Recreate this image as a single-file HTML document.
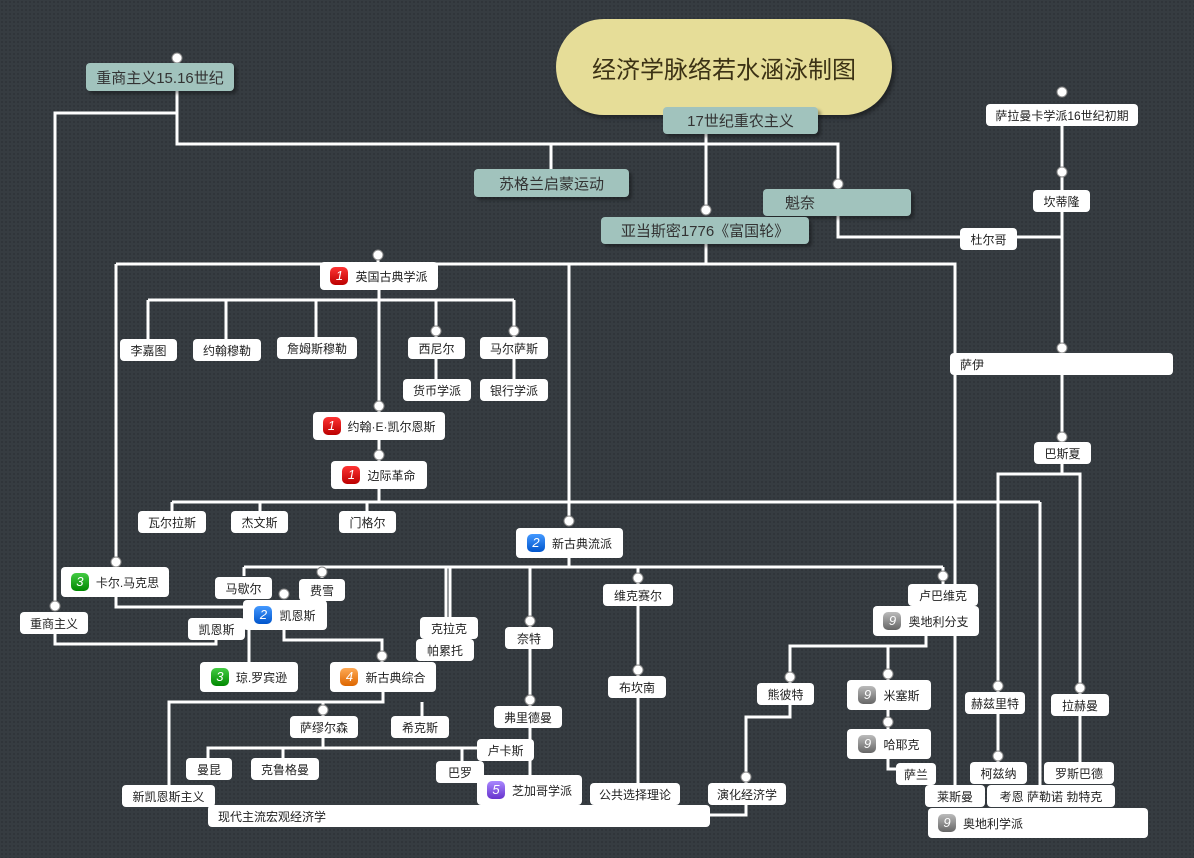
<!DOCTYPE html>
<html><head><meta charset="utf-8"><style>
body{margin:0;width:1194px;height:858px;overflow:hidden;background:#363c41;background-image:radial-gradient(#2e3338 1px,transparent 1px);background-size:4px 4px;font-family:"Liberation Sans","Noto Sans CJK SC",sans-serif;position:relative}
.n{position:absolute;background:#fff;border-radius:4px;font-size:12px;color:#222;display:flex;align-items:center;justify-content:center;box-sizing:border-box;white-space:nowrap}
.t{background:#a1c3bd;font-size:15px;color:#333;box-shadow:3px 3px 3px rgba(0,0,0,.35)}
.b{display:inline-block;width:18px;height:18px;border-radius:5px;color:#fff;font-style:italic;font-size:13px;text-align:center;line-height:18px;margin-right:7px}
.r{background:linear-gradient(#f33,#b00)}.g{background:linear-gradient(#4c4,#080)}.bl{background:linear-gradient(#49f,#05c)}.o{background:linear-gradient(#fa5,#d60)}.p{background:linear-gradient(#a8f,#63c)}.y{background:linear-gradient(#bbb,#666)}
svg{position:absolute;left:0;top:0}
</style></head><body>
<svg width="1194" height="858"><g fill="none" stroke="#fff" stroke-width="3">
<path d="M177,91V144H838V184M551,144V169M706,134V210M177,113H55V607"/>
<path d="M706,230V264M116,264H955V785M116,264V562M569,264V521M378,255V262"/>
<path d="M838,204V237H1062M1062,118V353M1062,375V443M1062,463V474H998V762M1062,474H1080V762"/>
<path d="M1040,502V785M172,502H1040M379,489V502M172,502V511M260,502V511M367,502V511"/>
<path d="M379,290V300M148,300H514M148,300V339M226,300V339M316,300V337M436,300V337M514,300V337M379,300V412M379,440V461M436,359V379M514,359V379"/>
<path d="M569,558V567M244,567H943M244,567V576M322,567V578M446,567V617M450,567V617M530,567V627M638,567V584M943,567V584"/>
<path d="M116,597V607H243M249,630V662M284,630V640H382V662M216,639V644H55V634"/>
<path d="M383,692V702H169V785M323,702V716M422,702V716M323,738V748H208V758M283,748V758M323,748H477M462,748V761"/>
<path d="M530,649V706M530,728V775M638,606V676M638,698V783M926,636V646H790V683M888,646V680M888,710V729M888,759V769H896M790,705V717H746V783M746,805V815H710"/>
</g>
<g fill="#fff" stroke="#888" stroke-width="1">
<circle cx="177" cy="58" r="5"/><circle cx="838" cy="184" r="5"/><circle cx="706" cy="210" r="5"/><circle cx="1062" cy="92" r="5"/><circle cx="1062" cy="172" r="5"/><circle cx="1062" cy="348" r="5"/><circle cx="1062" cy="437" r="5"/>
<circle cx="378" cy="255" r="5"/><circle cx="436" cy="331" r="5"/><circle cx="514" cy="331" r="5"/><circle cx="379" cy="406" r="5"/><circle cx="379" cy="455" r="5"/><circle cx="569" cy="521" r="5"/><circle cx="116" cy="562" r="5"/><circle cx="55" cy="606" r="5"/>
<circle cx="322" cy="572" r="5"/><circle cx="284" cy="594" r="5"/><circle cx="530" cy="621" r="5"/><circle cx="638" cy="578" r="5"/><circle cx="943" cy="576" r="5"/><circle cx="926" cy="600" r="5"/><circle cx="382" cy="656" r="5"/><circle cx="323" cy="710" r="5"/><circle cx="530" cy="700" r="5"/><circle cx="638" cy="670" r="5"/><circle cx="790" cy="677" r="5"/><circle cx="888" cy="674" r="5"/><circle cx="888" cy="722" r="5"/><circle cx="998" cy="686" r="5"/><circle cx="1080" cy="688" r="5"/><circle cx="998" cy="756" r="5"/><circle cx="746" cy="777" r="5"/>
</g></svg>
<div class="n" style="left:556px;top:19px;width:336px;height:96px;border-radius:48px;background:#e6dd98;font-size:24px;color:#3c3215;box-shadow:3px 3px 4px rgba(0,0,0,.4)">经济学脉络若水涵泳制图</div>
<div class="n t" style="left:86px;top:63px;width:148px;height:28px">重商主义15.16世纪</div>
<div class="n t" style="left:663px;top:107px;width:155px;height:27px">17世纪重农主义</div>
<div class="n t" style="left:474px;top:169px;width:155px;height:28px">苏格兰启蒙运动</div>
<div class="n t" style="left:763px;top:189px;width:148px;height:27px;justify-content:flex-start;padding-left:22px">魁奈</div>
<div class="n t" style="left:601px;top:217px;width:208px;height:27px">亚当斯密1776《富国轮》</div>
<div class="n" style="left:986px;top:104px;width:152px;height:22px">萨拉曼卡学派16世纪初期</div>
<div class="n" style="left:1033px;top:190px;width:57px;height:22px">坎蒂隆</div>
<div class="n" style="left:960px;top:228px;width:57px;height:22px">杜尔哥</div>
<div class="n" style="left:950px;top:353px;width:223px;height:22px;justify-content:flex-start;padding-left:10px">萨伊</div>
<div class="n" style="left:1034px;top:442px;width:57px;height:22px">巴斯夏</div>
<div class="n" style="left:320px;top:262px;width:118px;height:28px"><span class="b r">1</span>英国古典学派</div>
<div class="n" style="left:120px;top:339px;width:57px;height:22px">李嘉图</div>
<div class="n" style="left:193px;top:339px;width:68px;height:22px">约翰穆勒</div>
<div class="n" style="left:277px;top:337px;width:80px;height:22px">詹姆斯穆勒</div>
<div class="n" style="left:408px;top:337px;width:57px;height:22px">西尼尔</div>
<div class="n" style="left:480px;top:337px;width:68px;height:22px">马尔萨斯</div>
<div class="n" style="left:403px;top:379px;width:68px;height:22px">货币学派</div>
<div class="n" style="left:480px;top:379px;width:68px;height:22px">银行学派</div>
<div class="n" style="left:313px;top:412px;width:132px;height:28px"><span class="b r">1</span>约翰·E·凯尔恩斯</div>
<div class="n" style="left:331px;top:461px;width:96px;height:28px"><span class="b r">1</span>边际革命</div>
<div class="n" style="left:138px;top:511px;width:68px;height:22px">瓦尔拉斯</div>
<div class="n" style="left:231px;top:511px;width:57px;height:22px">杰文斯</div>
<div class="n" style="left:339px;top:511px;width:57px;height:22px">门格尔</div>
<div class="n" style="left:516px;top:528px;width:107px;height:30px"><span class="b bl">2</span>新古典流派</div>
<div class="n" style="left:61px;top:567px;width:108px;height:30px"><span class="b g">3</span>卡尔.马克思</div>
<div class="n" style="left:215px;top:577px;width:57px;height:22px">马歇尔</div>
<div class="n" style="left:299px;top:579px;width:46px;height:22px">费雪</div>
<div class="n" style="left:243px;top:600px;width:84px;height:30px"><span class="b bl">2</span>凯恩斯</div>
<div class="n" style="left:188px;top:618px;width:57px;height:22px">凯恩斯</div>
<div class="n" style="left:20px;top:612px;width:68px;height:22px">重商主义</div>
<div class="n" style="left:420px;top:617px;width:58px;height:22px">克拉克</div>
<div class="n" style="left:416px;top:639px;width:58px;height:22px">帕累托</div>
<div class="n" style="left:505px;top:627px;width:48px;height:22px">奈特</div>
<div class="n" style="left:603px;top:584px;width:70px;height:22px">维克赛尔</div>
<div class="n" style="left:200px;top:662px;width:98px;height:30px"><span class="b g">3</span>琼.罗宾逊</div>
<div class="n" style="left:330px;top:662px;width:106px;height:30px"><span class="b o">4</span>新古典综合</div>
<div class="n" style="left:290px;top:716px;width:68px;height:22px">萨缪尔森</div>
<div class="n" style="left:391px;top:716px;width:58px;height:22px">希克斯</div>
<div class="n" style="left:186px;top:758px;width:46px;height:22px">曼昆</div>
<div class="n" style="left:251px;top:758px;width:68px;height:22px">克鲁格曼</div>
<div class="n" style="left:494px;top:706px;width:68px;height:22px">弗里德曼</div>
<div class="n" style="left:477px;top:739px;width:57px;height:22px">卢卡斯</div>
<div class="n" style="left:436px;top:761px;width:48px;height:22px">巴罗</div>
<div class="n" style="left:477px;top:775px;width:105px;height:30px"><span class="b p">5</span>芝加哥学派</div>
<div class="n" style="left:122px;top:785px;width:93px;height:22px">新凯恩斯主义</div>
<div class="n" style="left:208px;top:805px;width:502px;height:22px;justify-content:flex-start;padding-left:10px">现代主流宏观经济学</div>
<div class="n" style="left:590px;top:783px;width:90px;height:22px">公共选择理论</div>
<div class="n" style="left:608px;top:676px;width:58px;height:22px">布坎南</div>
<div class="n" style="left:708px;top:783px;width:78px;height:22px">演化经济学</div>
<div class="n" style="left:757px;top:683px;width:57px;height:22px">熊彼特</div>
<div class="n" style="left:908px;top:584px;width:70px;height:22px">卢巴维克</div>
<div class="n" style="left:873px;top:606px;width:106px;height:30px"><span class="b y">9</span>奥地利分支</div>
<div class="n" style="left:847px;top:680px;width:84px;height:30px"><span class="b y">9</span>米塞斯</div>
<div class="n" style="left:847px;top:729px;width:84px;height:30px"><span class="b y">9</span>哈耶克</div>
<div class="n" style="left:896px;top:763px;width:40px;height:22px">萨兰</div>
<div class="n" style="left:965px;top:692px;width:60px;height:22px">赫兹里特</div>
<div class="n" style="left:1051px;top:694px;width:58px;height:22px">拉赫曼</div>
<div class="n" style="left:970px;top:762px;width:57px;height:22px">柯兹纳</div>
<div class="n" style="left:1044px;top:762px;width:70px;height:22px">罗斯巴德</div>
<div class="n" style="left:925px;top:785px;width:60px;height:22px">莱斯曼</div>
<div class="n" style="left:987px;top:785px;width:128px;height:22px">考恩 萨勒诺 勃特克</div>
<div class="n" style="left:928px;top:808px;width:220px;height:30px;justify-content:flex-start;padding-left:10px"><span class="b y">9</span>奥地利学派</div>
</body></html>
